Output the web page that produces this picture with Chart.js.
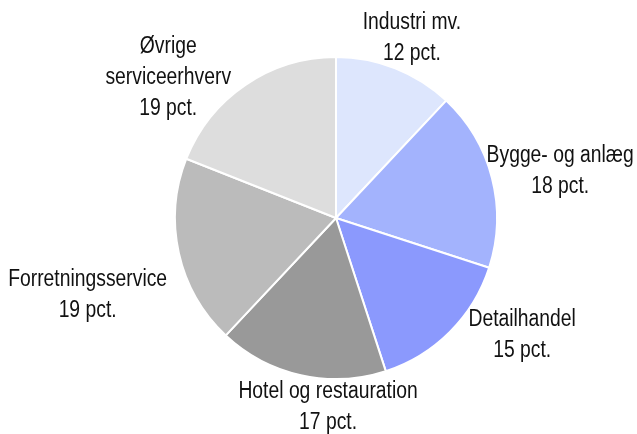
<!DOCTYPE html>
<html>
<head>
<meta charset="utf-8">
<script src="https://cdn.jsdelivr.net/npm/chart.js@4"></script>
<style>
  body { margin: 0; background: #fff; }
</style>
</head>
<body>
<canvas id="myChart" width="637" height="434"></canvas>
<script>
// brancher og andele (pct.)
var labels = [['Industri mv.'], ['Bygge- og anlæg'], ['Detailhandel'], ['Hotel og restauration'], ['Forretningsservice'], ['Øvrige', 'serviceerhverv']];
var values = [12, 18, 15, 17, 19, 19];
var colors = ['#dde6fd', '#a3b3fd', '#8b99fd', '#999999', '#bbbbbb', '#dddddd'];

// placering af tekst: vinkel-forskydning (grader) og afstand uden for cirklen
var labelPos = [[1.3, 34], [2.6, 68], [-12.8, 59], [-10.2, 28], [-4.6, 99], [-15.8, 58]];

var pieLabels = {
  id: 'pieLabels',
  afterDraw: function (chart) {
    var ctx = chart.ctx;
    var arcs = chart.getDatasetMeta(0).data;
    ctx.save();
    ctx.fillStyle = '#111';
    ctx.font = '23px "Liberation Sans", Arial, sans-serif';
    ctx.textAlign = 'center';
    ctx.textBaseline = 'middle';
    arcs.forEach(function (arc, i) {
      var p = arc.getProps(['x', 'y', 'startAngle', 'endAngle', 'outerRadius'], true);
      var a = (p.startAngle + p.endAngle) / 2 + labelPos[i][0] * Math.PI / 180;
      var d = p.outerRadius + labelPos[i][1];
      var x = p.x + Math.cos(a) * d;
      var y = p.y + Math.sin(a) * d;
      var lines = labels[i].concat([values[i] + ' pct.']);
      var lh = 31;
      var y0 = y - (lines.length - 1) * lh / 2;
      lines.forEach(function (t, j) {
        ctx.save();
        ctx.translate(x, y0 + j * lh);
        ctx.scale(0.84, 1);
        ctx.fillText(t, 0, 0);
        ctx.restore();
      });
    });
    ctx.restore();
  }
};

var ctx = document.getElementById('myChart').getContext('2d');
var myChart = new Chart(ctx, {
  type: 'pie',
  data: {
    labels: labels.map(function (l) { return l.join(' '); }),
    datasets: [{
      data: values,
      backgroundColor: colors,
      borderColor: '#ffffff',
      borderWidth: 2
    }]
  },
  options: {
    responsive: false,
    animation: false,
    layout: { padding: { top: 56, bottom: 54, left: 50, right: 15 } },
    plugins: {
      legend: { display: false },
      tooltip: { enabled: false }
    }
  },
  plugins: [pieLabels]
});
</script>
</body>
</html>
